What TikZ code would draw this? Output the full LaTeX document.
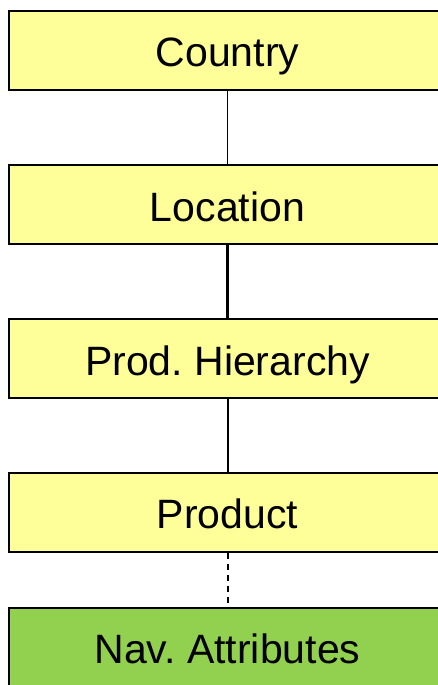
\documentclass[tikz,border=0pt]{standalone}
\usepackage{fontspec}
\setmainfont{Liberation Sans}
\definecolor{boxyellow}{HTML}{FFFF99}
\definecolor{boxgreen}{HTML}{92D050}
\begin{document}
\frenchspacing
\begin{tikzpicture}[x=1pt,y=1pt,
  levelbox/.style={draw=black, line width=2pt, minimum width=437pt, minimum height=79pt, inner sep=0pt, text height=33pt, text depth=0pt, font=\fontsize{41}{46}\selectfont, text=black},
  yel/.style={levelbox, fill=boxyellow},
  grn/.style={levelbox, fill=boxgreen},
  link/.style={draw=black}]
\useasboundingbox (0,0) rectangle (438,685);
\fill[white] (0,0) rectangle (438,685);
\clip (0,0) rectangle (438,685);
\node[yel] (country) at (227.5,634.5) {Country};
\node[yel] (location) at (227.5,480) {Location};
\node[yel] (prodh) at (227.5,326) {Prod. Hierarchy};
\node[yel] (product) at (227.5,172.5) {Product};
\node[grn] (nav) at (227.5,37.5) {Nav. Attributes};
\draw[link, line width=1.6pt] (country.south) -- (location.north);
\draw[link, line width=3pt] (location.south) -- (prodh.north);
\draw[link, line width=2pt] (prodh.south) -- (product.north);
\draw[link, line width=2pt, dash pattern=on 6pt off 5pt] (product.south) -- (nav.north);
\end{tikzpicture}
\end{document}
